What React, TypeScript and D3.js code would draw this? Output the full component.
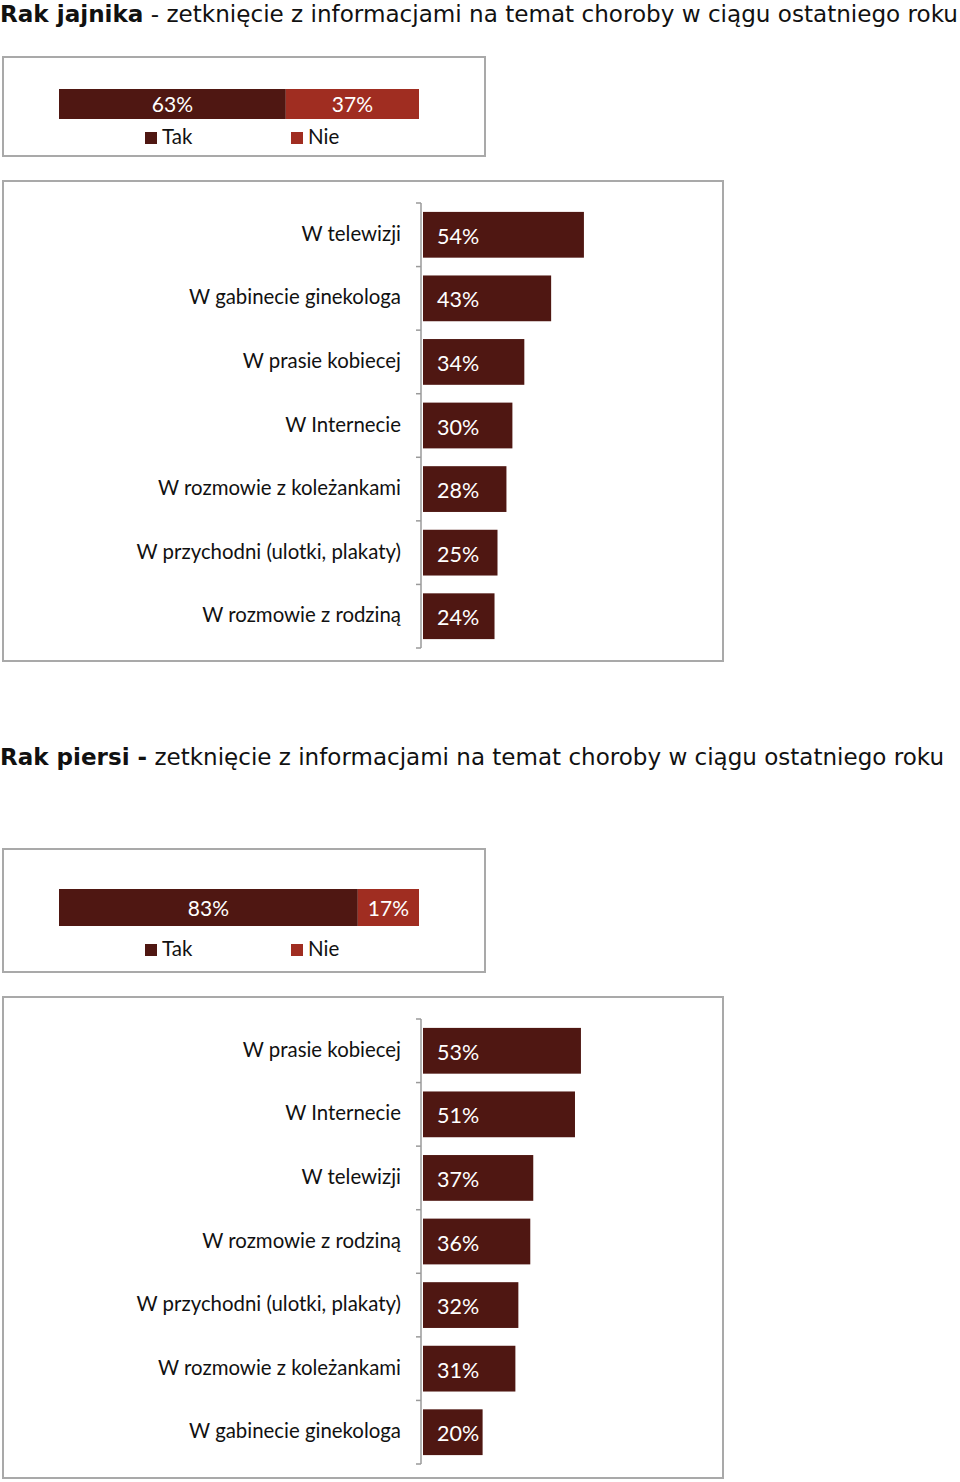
import React from "react";
import * as d3 from "d3";

const shareSeries = ["Tak", "Nie"];
const shareColors = ["#4f1712", "#a02d21"];

const ovarianTitleBold = "Rak jajnika";
const ovarianTitleRest = " - zetknięcie z informacjami na temat choroby w ciągu ostatniego roku";
const ovarianShare = [63, 37];
const ovarianCategories = [
  "W telewizji",
  "W gabinecie ginekologa",
  "W prasie kobiecej",
  "W Internecie",
  "W rozmowie z koleżankami",
  "W przychodni (ulotki, plakaty)",
  "W rozmowie z rodziną",
];
const ovarianValues = [54, 43, 34, 30, 28, 25, 24];

const breastTitleBold = "Rak piersi";
const breastTitleRest = " - zetknięcie z informacjami na temat choroby w ciągu ostatniego roku";
const breastShare = [83, 17];
const breastCategories = [
  "W prasie kobiecej",
  "W Internecie",
  "W telewizji",
  "W rozmowie z rodziną",
  "W przychodni (ulotki, plakaty)",
  "W rozmowie z koleżankami",
  "W gabinecie ginekologa",
];
const breastValues = [53, 51, 37, 36, 32, 31, 20];

const LABEL_FONT = "Lato, 'Open Sans', sans-serif";
const TITLE_FONT = "'DejaVu Sans', Lato, sans-serif";
const BORDER = "#a9a9a9";

type PanelProps = {
  titleBold: string;
  titleRest: string;
  titleY: number;
  titleWidth: number;
  boldDash: boolean;
  share: number[];
  box1: { y: number; h: number };
  stackY: number;
  stackH: number;
  legendY: number;
  box2: { y: number; h: number };
  bandTop: number;
  bandBottom: number;
  categories: string[];
  values: number[];
};

function Panel(p: PanelProps) {
  const sx = d3.scaleLinear().domain([0, 100]).range([59, 419]);
  let cum = 0;
  const segs = p.share.map((v, i) => {
    const s = { x0: cum, x1: cum + v, v, i };
    cum += v;
    return s;
  });

  const x = d3.scaleLinear().domain([0, 100]).range([423, 721]);
  const y = d3
    .scaleBand<string>()
    .domain(p.categories)
    .range([p.bandTop, p.bandBottom])
    .paddingInner(0.28)
    .paddingOuter(0.14);
  const step = y.step();
  const bounds = p.categories.map((c) => (y(c) as number) - step * 0.14);
  bounds.push(p.bandBottom);
  const bw = y.bandwidth();

  return (
    <g>
      <text
        x={0}
        y={p.titleY}
        fontFamily={TITLE_FONT}
        fontSize={23}
        fill="#111"
        textLength={p.titleWidth}
        lengthAdjust="spacingAndGlyphs"
      >
        <tspan fontWeight="bold">{p.titleBold}</tspan>
        {p.boldDash ? (
          <>
            <tspan fontWeight="bold"> -</tspan>
            <tspan>{p.titleRest.replace(/^ -/, "")}</tspan>
          </>
        ) : (
          <tspan>{p.titleRest}</tspan>
        )}
      </text>

      <rect x={3} y={p.box1.y} width={482} height={p.box1.h} fill="#fff" stroke={BORDER} strokeWidth={2} />
      {segs.map((s) => (
        <g key={s.i}>
          <rect
            x={sx(s.x0)}
            y={p.stackY}
            width={sx(s.x1) - sx(s.x0)}
            height={p.stackH}
            fill={shareColors[s.i]}
          />
          <text
            x={(sx(s.x0) + sx(s.x1)) / 2}
            y={p.stackY + p.stackH / 2 + 8}
            textAnchor="middle"
            fontFamily={LABEL_FONT}
            fontSize={21}
            fill="#fff"
          >
            {s.v + "%"}
          </text>
        </g>
      ))}
      {shareSeries.map((name, i) => (
        <g key={name}>
          <rect x={145 + i * 146} y={p.legendY - 12} width={12} height={12} fill={shareColors[i]} />
          <text x={162 + i * 146} y={p.legendY} fontFamily={LABEL_FONT} fontSize={20.5} fill="#111">
            {name}
          </text>
        </g>
      ))}

      <rect x={3} y={p.box2.y} width={720} height={p.box2.h} fill="#fff" stroke={BORDER} strokeWidth={2} />
      <line x1={421} x2={421} y1={p.bandTop} y2={p.bandBottom} stroke="#9a9a9a" strokeWidth={1.5} />
      {bounds.map((b, i) => (
        <line key={i} x1={416} x2={421} y1={b} y2={b} stroke="#9a9a9a" strokeWidth={1.5} />
      ))}
      {p.categories.map((c, i) => {
        const yc = (y(c) as number) + bw / 2;
        return (
          <g key={c}>
            <rect x={x(0)} y={y(c)} width={x(p.values[i]) - x(0)} height={bw} fill={shareColors[0]} />
            <text x={401} y={yc + 6} textAnchor="end" fontFamily={LABEL_FONT} fontSize={20.4} fill="#111">
              {c}
            </text>
            <text x={x(0) + 14} y={yc + 9} fontFamily={LABEL_FONT} fontSize={21.5} fill="#fff">
              {p.values[i] + "%"}
            </text>
          </g>
        );
      })}
    </g>
  );
}

export default function App() {
  return (
    <svg
      width={960}
      height={1482}
      style={{ position: "absolute", left: 0, top: 0, background: "#fff" }}
    >
      <rect x={0} y={0} width={960} height={1482} fill="#fff" />
      <Panel
        titleBold={ovarianTitleBold}
        titleRest={ovarianTitleRest}
        titleY={22}
        titleWidth={958}
        boldDash={false}
        share={ovarianShare}
        box1={{ y: 57, h: 99 }}
        stackY={89}
        stackH={30}
        legendY={144}
        box2={{ y: 181, h: 480 }}
        bandTop={203}
        bandBottom={648}
        categories={ovarianCategories}
        values={ovarianValues}
      />
      <Panel
        titleBold={breastTitleBold}
        titleRest={breastTitleRest}
        titleY={765}
        titleWidth={944}
        boldDash={true}
        share={breastShare}
        box1={{ y: 849, h: 123 }}
        stackY={889}
        stackH={37}
        legendY={956}
        box2={{ y: 997, h: 481 }}
        bandTop={1019}
        bandBottom={1464}
        categories={breastCategories}
        values={breastValues}
      />
    </svg>
  );
}
